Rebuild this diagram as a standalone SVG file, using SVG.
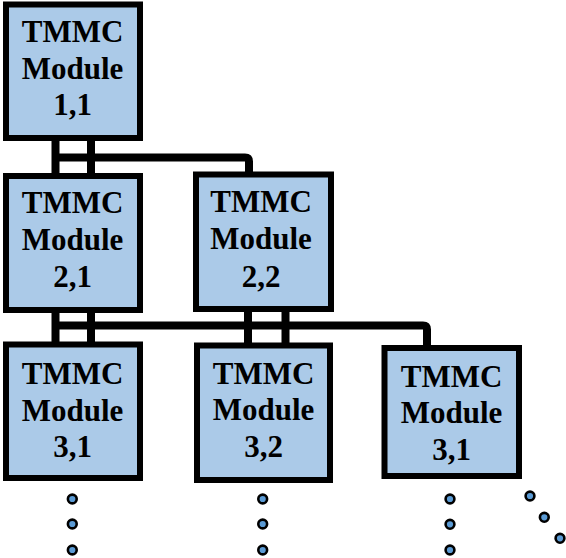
<svg xmlns="http://www.w3.org/2000/svg" width="566" height="558" viewBox="0 0 566 558">
  <style>
    .box { fill: #abcae8; stroke: #000; stroke-width: 6; }
    .bus { fill: none; stroke: #000; stroke-width: 8; stroke-linejoin: round; }
    .dot { fill: #5b9bd5; stroke: #000; stroke-width: 2.6; }
  </style>
  <rect width="566" height="558" fill="#fff"/>

  <!-- bus connections between rows -->
  <g id="connectors">
    <!-- row 1 to row 2 -->
    <path class="bus" d="M55.5 138 V176 M91 138 V176"/>
    <path class="bus" d="M52 157.5 H245 Q249 157.5 249 161.5 V175"/>
    <!-- row 2 to row 3 -->
    <path class="bus" d="M55.5 310 V345 M91 310 V345"/>
    <path class="bus" d="M248 309 V346 M285.5 309 V346"/>
    <path class="bus" d="M52 325.5 H423 Q427 325.5 427 329.5 V348"/>
  </g>

  <g id="modules" font-family="'Liberation Serif', 'DejaVu Serif', serif" font-weight="bold" font-size="31" text-anchor="middle" fill="#000">
  <g id="m11">
    <rect class="box" x="6" y="4.5" width="134" height="133.5"/>
    <text x="72.5" y="42">TMMC</text>
    <text x="72.5" y="79">Module</text>
    <text x="72.5" y="114.5">1,1</text>
  </g>
  <g id="m21">
    <rect class="box" x="6" y="176" width="134" height="134"/>
    <text x="72.5" y="213">TMMC</text>
    <text x="72.5" y="250">Module</text>
    <text x="72.5" y="286.5">2,1</text>
  </g>
  <g id="m22">
    <rect class="box" x="196" y="174.5" width="135" height="134.5"/>
    <text x="261" y="212">TMMC</text>
    <text x="261" y="248.5">Module</text>
    <text x="261" y="286.5">2,2</text>
  </g>
  <g id="m31">
    <rect class="box" x="6" y="344.5" width="134" height="133.5"/>
    <text x="72.5" y="383.5">TMMC</text>
    <text x="72.5" y="421">Module</text>
    <text x="72.5" y="456.5">3,1</text>
  </g>
  <g id="m32">
    <rect class="box" x="197" y="345.5" width="133" height="134.5"/>
    <text x="263.5" y="383.5">TMMC</text>
    <text x="263.5" y="420">Module</text>
    <text x="263.5" y="456.5">3,2</text>
  </g>
  <g id="m33">
    <rect class="box" x="384.5" y="348" width="134.5" height="128"/>
    <text x="451.5" y="387">TMMC</text>
    <text x="451.5" y="423">Module</text>
    <text x="451.5" y="460">3,1</text>
  </g>
  </g>

  <!-- continuation dots -->
  <g id="ellipses">
    <circle class="dot" cx="72.3" cy="499" r="4.4"/>
    <circle class="dot" cx="72.3" cy="524" r="4.4"/>
    <circle class="dot" cx="72.3" cy="550" r="4.4"/>
    <circle class="dot" cx="262.7" cy="499" r="4.4"/>
    <circle class="dot" cx="262.7" cy="524" r="4.4"/>
    <circle class="dot" cx="262.7" cy="550" r="4.4"/>
    <circle class="dot" cx="450" cy="499" r="4.4"/>
    <circle class="dot" cx="450" cy="524.3" r="4.4"/>
    <circle class="dot" cx="450" cy="550" r="4.4"/>
    <circle class="dot" cx="530" cy="496" r="4.4"/>
    <circle class="dot" cx="544.3" cy="517.3" r="4.4"/>
    <circle class="dot" cx="560" cy="538.3" r="4.4"/>
  </g>
</svg>
